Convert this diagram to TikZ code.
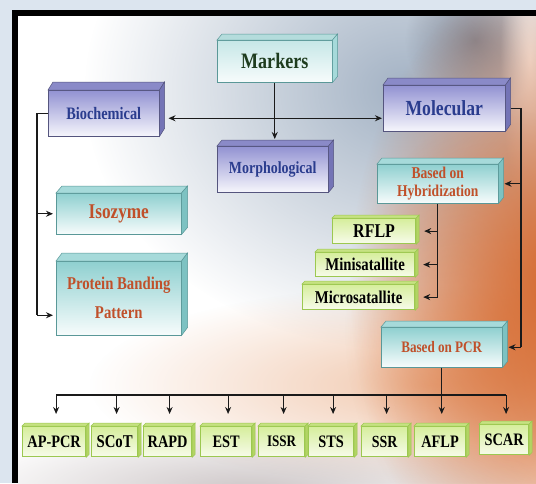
\documentclass[tikz,border=0pt]{standalone}
\usepackage{fontspec}
\setmainfont{Liberation Serif}[FakeStretch=0.82]
\usetikzlibrary{arrows.meta,calc,fadings}

\definecolor{pagebg}{HTML}{DCE5EF}
\definecolor{haze}{HTML}{A3B2C4}
\definecolor{hair}{HTML}{4A4A58}
\definecolor{skin}{HTML}{D5672B}
\definecolor{skinlt}{HTML}{E8A478}
\definecolor{shadowc}{HTML}{9A8C8E}
\definecolor{lavtop}{HTML}{9292D2}
\definecolor{lavbot}{HTML}{F6F6FC}
\definecolor{lavface}{HTML}{8A8AC8}
\definecolor{lavside}{HTML}{7474B6}
\definecolor{lavline}{HTML}{55557E}
\definecolor{tealtop}{HTML}{8FD0D0}
\definecolor{tealbot}{HTML}{F7FCFC}
\definecolor{tealface}{HTML}{A6DADA}
\definecolor{tealside}{HTML}{7DC2C2}
\definecolor{tealline}{HTML}{5A9898}
\definecolor{mktop}{HTML}{C6E7E7}
\definecolor{mkface}{HTML}{B4DCDC}
\definecolor{grntop}{HTML}{D6EE9C}
\definecolor{grnbot}{HTML}{F7FBEA}
\definecolor{grnface}{HTML}{C6E282}
\definecolor{grnside}{HTML}{B2D464}
\definecolor{grnline}{HTML}{9CC850}
\definecolor{bluetxt}{HTML}{2A3C8E}
\definecolor{orangetxt}{HTML}{C0502A}
\definecolor{greentxt}{HTML}{1E3C1E}
\definecolor{linec}{HTML}{1A1A1A}

% soft radial glow: opaque centre fading out at half the path radius
\tikzfading[name=glow, inner color=transparent!0, outer color=transparent!100]

% top and right faces of a raised box
\newcommand\boxfaces[6]{%
  \filldraw[fill=#4, draw=#6, line width=0.5pt] (#1.north west) -- ([shift={(#2,#3)}]#1.north west)
    -- ([shift={(#2,#3)}]#1.north east) -- (#1.north east) -- cycle;
  \filldraw[fill=#5, draw=#6, line width=0.5pt] (#1.north east) -- ([shift={(#2,#3)}]#1.north east)
    -- ([shift={(#2,#3)}]#1.south east) -- (#1.south east) -- cycle;
}

\tikzset{
  base/.style={anchor=north west, inner sep=0pt, align=center},
  lav/.style={base, draw=lavline, line width=0.5pt, top color=lavtop, bottom color=lavbot, text=bluetxt},
  tealbox/.style={base, draw=tealline, line width=0.5pt, top color=tealtop, bottom color=tealbot, text=orangetxt},
  grn/.style={base, draw=grnline, line width=1.2pt, top color=grntop, bottom color=grnbot, text=black},
  ln/.style={draw=linec, line width=1.1pt},
  tip/.tip={Stealth[length=7pt,width=6pt]},
  arr/.style={ln, -tip},
  tx/.style={font=\bfseries\fontsize{#1}{#1}\selectfont},
}

\begin{document}
\begin{tikzpicture}[x=1pt, y=-1pt]
\useasboundingbox (0,0) rectangle (536,483);

% page, frame and photo backdrop
\fill[pagebg] (0,0) rectangle (536,483);
\fill[black] (12,10) rectangle (536,483);
\fill[white] (18,16) rectangle (536,483);
\begin{scope}
  \clip (18,16) rectangle (536,483);
  \fill[haze, path fading=glow] (405,90) ellipse (320 and 260);
  \fill[hair, path fading=glow, opacity=0.5] (475,40) ellipse (70 and 70);
  \fill[white, path fading=glow, opacity=0.9] (530,60) ellipse (30 and 150);
  \fill[skinlt, path fading=glow, opacity=0.6] (430,385) ellipse (340 and 100);
  \fill[skin, path fading=glow] (560,285) ellipse (210 and 320);
  \fill[skin, path fading=glow, opacity=0.5] (505,330) ellipse (160 and 220);
  \fill[shadowc, path fading=glow, opacity=0.5] (250,492) ellipse (300 and 70);
\end{scope}

% main categories
\node[tealbox, top color=mktop, text=greentxt, minimum width=115pt, minimum height=42pt, tx=22] (mk) at (217,40) {Markers};
\boxfaces{mk}{5}{-6}{mkface}{tealface}{tealline}

\node[lav, minimum width=111pt, minimum height=46pt, tx=17.5] (bio) at (48,90) {Biochemical};
\boxfaces{bio}{5}{-8}{lavface}{lavside}{lavline}

\node[lav, minimum width=122pt, minimum height=46pt, tx=21.5] (mol) at (383,85) {Molecular};
\boxfaces{mol}{5}{-7}{lavface}{lavside}{lavline}

\node[lav, minimum width=111pt, minimum height=46pt, tx=17] (morph) at (217,146) {Morphological};
\boxfaces{morph}{5}{-6}{lavface}{lavside}{lavline}

% biochemical branch
\node[tealbox, minimum width=125pt, minimum height=41pt, tx=21] (iso) at (56,193) {Isozyme};
\boxfaces{iso}{6}{-7}{tealface}{tealside}{tealline}

\node[tealbox, minimum width=125pt, minimum height=74pt, font=\bfseries\fontsize{18}{29}\selectfont] (prot) at (56,261) {Protein Banding\\Pattern};
\boxfaces{prot}{6}{-8}{tealface}{tealside}{tealline}

% molecular branch
\node[tealbox, minimum width=121pt, minimum height=39pt, font=\bfseries\fontsize{16.5}{18}\selectfont] (hyb) at (377,164) {Based on\\Hybridization};
\boxfaces{hyb}{5}{-6}{tealface}{tealside}{tealline}

\node[grn, minimum width=83pt, minimum height=25pt, tx=19.5] (rflp) at (332,218) {RFLP};
\boxfaces{rflp}{3}{-3}{grnface}{grnside}{grnline}
\node[grn, minimum width=99pt, minimum height=24pt, tx=18] (mini) at (315,252) {Minisatallite};
\boxfaces{mini}{3}{-3}{grnface}{grnside}{grnline}
\node[grn, minimum width=112pt, minimum height=25pt, tx=18] (micro) at (302,284) {Microsatallite};
\boxfaces{micro}{3}{-3}{grnface}{grnside}{grnline}

\node[tealbox, minimum width=121pt, minimum height=40pt, tx=16] (pcr) at (381,327) {Based on PCR};
\boxfaces{pcr}{5}{-6}{tealface}{tealside}{tealline}

% PCR based techniques
\foreach \n/\x/\w/\s/\t in {appcr/22/63/17.5/AP-PCR, scot/91/46/18/SCoT, rapd/143/48/17.5/RAPD,
    est/200/51/17.5/EST, issr/258/46/16/ISSR, sts/308/45/17.5/STS, ssr/361/46/17/SSR,
    aflp/414/51/17.5/AFLP}{
  \node[grn, minimum width=\w pt, minimum height=30pt, tx=\s] (\n) at (\x,426) {\t};
  \boxfaces{\n}{3}{-3}{grnface}{grnside}{grnline}
}
\node[grn, minimum width=49pt, minimum height=30pt, tx=17.5] (scar) at (479,424) {SCAR};
\boxfaces{scar}{3}{-3}{grnface}{grnside}{grnline}

% connectors
\coordinate (lbus) at (37,0);
\coordinate (rbus) at (521,0);
\coordinate (bus) at (0,395);
\coordinate (protin) at ([yshift=-17pt]prot.west);

\draw[arr] (mk.south) -- ($(mk.south |- morph.north)+(0,-7)$);
\draw[ln, tip-tip] ([shift={(9,5)}]bio.east) -- ([shift={(-1,5)}]bio.east -| mol.west);

\draw[ln] (bio.west) -- (bio.west -| lbus) -- (lbus |- protin);
\draw[arr, shorten >=3pt] (lbus |- iso.west) -- (iso.west);
\draw[arr, shorten >=3pt] (lbus |- protin) -- (protin);

\draw[ln] ([xshift=5pt]mol.east) -- (mol.east -| rbus) -- (rbus |- pcr.east);
\draw[arr] (rbus |- hyb.east) -- ([xshift=6pt]hyb.east);
\draw[arr] (rbus |- pcr.east) -- ([xshift=6pt]pcr.east);

\draw[ln] (hyb.south) -- (hyb.south |- micro.east);
\foreach \n in {rflp, mini, micro}
  \draw[arr, shorten >=8pt] (hyb.south |- \n.east) -- (\n.east);

\draw[ln] ([xshift=2pt]appcr.north |- bus) -- ([xshift=2pt]scar.north |- bus);
\draw[arr] (pcr.south) -- ([yshift=12pt]pcr.south |- aflp.north);
\foreach \n in {appcr, scot, rapd, est, issr, sts, ssr}
  \draw[arr] ([xshift=2pt]\n.north |- bus) -- ([xshift=2pt,yshift=12pt]\n.north);
\draw[arr] ([xshift=2pt]scar.north |- bus) -- ([xshift=2pt,yshift=10pt]scar.north);
\end{tikzpicture}
\end{document}
